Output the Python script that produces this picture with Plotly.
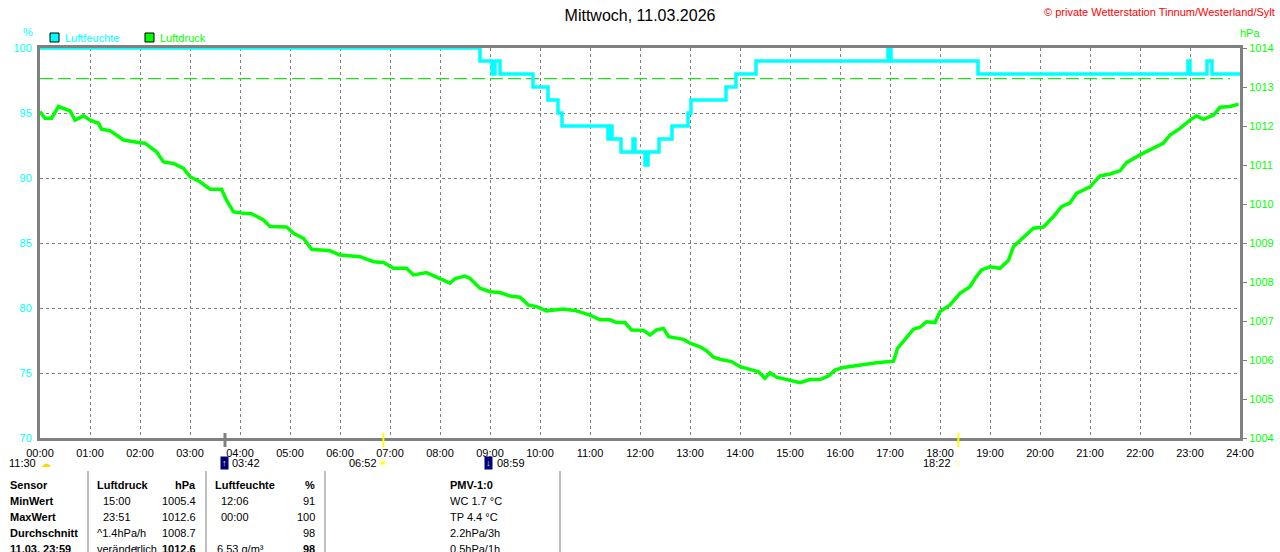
import plotly.graph_objects as go

# Luftfeuchte (%) als Stufenkurve, Stunden seit Mitternacht
hum_hours = [0.00, 8.80, 9.04, 9.10, 9.20, 9.86, 10.16, 10.36, 10.44, 11.36, 11.40,
             11.44, 11.62, 11.86, 11.90, 12.10, 12.16, 12.38, 12.64, 12.96, 13.02,
             13.72, 13.92, 14.32, 16.96, 17.02, 18.76, 22.96, 23.00, 23.34, 23.44, 24.00]
hum_values = [100, 99, 98, 99, 98, 97, 96, 95, 94, 93, 94,
              93, 92, 93, 92, 91, 92, 93, 94, 95, 96,
              97, 98, 99, 100, 99, 98, 99, 98, 99, 98, 98]

# Luftdruck (hPa)
press_hours = [0.00, 0.10, 0.23, 0.37, 0.60, 0.70, 0.87, 1.00, 1.17, 1.23, 1.40, 1.53, 1.67,
               2.00, 2.10, 2.33, 2.47, 2.67, 2.87, 3.00, 3.20, 3.40, 3.63, 3.73, 3.87,
               4.07, 4.23, 4.47, 4.60, 4.93, 5.07, 5.27, 5.43, 5.80, 6.00, 6.40, 6.67,
               6.87, 7.07, 7.33, 7.47, 7.73, 7.93, 8.00, 8.20, 8.30, 8.50, 8.60, 8.80,
               9.00, 9.20, 9.40, 9.60, 9.77, 9.93, 10.13, 10.47, 10.73, 11.00, 11.20,
               11.40, 11.53, 11.70, 11.83, 12.07, 12.20, 12.33, 12.47, 12.57, 12.87,
               13.00, 13.20, 13.33, 13.47, 13.60, 13.83, 14.00, 14.20, 14.37, 14.50,
               14.60, 14.73, 15.00, 15.20, 15.40, 15.60, 15.77, 15.90, 16.07, 16.27,
               16.47, 16.73, 17.00, 17.07, 17.15, 17.33, 17.47, 17.60, 17.73, 17.90,
               18.00, 18.20, 18.40, 18.60, 18.70, 18.83, 19.00, 19.20, 19.37, 19.47,
               19.67, 19.87, 20.07, 20.27, 20.43, 20.60, 20.73, 21.00, 21.20, 21.40,
               21.60, 21.73, 22.00, 22.27, 22.47, 22.60, 22.80, 23.00, 23.13, 23.27,
               23.47, 23.60, 23.80, 23.97]
press_values = [1012.37, 1012.20, 1012.20, 1012.50, 1012.39, 1012.15, 1012.26, 1012.15, 1012.07,
                1011.92, 1011.88, 1011.77, 1011.64, 1011.57, 1011.56, 1011.34, 1011.08, 1011.04,
                1010.91, 1010.70, 1010.57, 1010.38, 1010.38, 1010.10, 1009.80, 1009.76, 1009.75,
                1009.59, 1009.42, 1009.41, 1009.25, 1009.12, 1008.84, 1008.80, 1008.69, 1008.65,
                1008.52, 1008.50, 1008.35, 1008.35, 1008.18, 1008.24, 1008.12, 1008.09, 1007.97,
                1008.09, 1008.15, 1008.09, 1007.84, 1007.75, 1007.73, 1007.64, 1007.61, 1007.41,
                1007.37, 1007.26, 1007.31, 1007.26, 1007.15, 1007.03, 1007.03, 1006.96, 1006.96,
                1006.77, 1006.76, 1006.64, 1006.77, 1006.81, 1006.60, 1006.53, 1006.43, 1006.34,
                1006.24, 1006.07, 1006.02, 1005.96, 1005.83, 1005.76, 1005.70, 1005.53, 1005.67,
                1005.56, 1005.47, 1005.42, 1005.50, 1005.50, 1005.59, 1005.74, 1005.81, 1005.85,
                1005.87, 1005.93, 1005.96, 1005.97, 1006.30, 1006.56, 1006.79, 1006.84, 1006.98,
                1006.96, 1007.24, 1007.41, 1007.71, 1007.88, 1008.09, 1008.31, 1008.39, 1008.35,
                1008.56, 1008.91, 1009.16, 1009.38, 1009.41, 1009.68, 1009.93, 1010.03, 1010.27,
                1010.44, 1010.72, 1010.77, 1010.85, 1011.06, 1011.26, 1011.43, 1011.56, 1011.77,
                1011.94, 1012.15, 1012.26, 1012.17, 1012.28, 1012.48, 1012.50, 1012.56]

# gestrichelte Mittelwertlinie
avg_hours = [0.0, 23.8]
avg_values = [97.65, 97.65]

hour_ticks = list(range(25))
hour_labels = ["00:00", "01:00", "02:00", "03:00", "04:00", "05:00", "06:00", "07:00",
               "08:00", "09:00", "10:00", "11:00", "12:00", "13:00", "14:00", "15:00",
               "16:00", "17:00", "18:00", "19:00", "20:00", "21:00", "22:00", "23:00", "24:00"]
hum_ticks = [70, 75, 80, 85, 90, 95, 100]
press_ticks = [1004, 1005, 1006, 1007, 1008, 1009, 1010, 1011, 1012, 1013, 1014]

# Sonne / Mond
moon_rise, sun_rise, moon_set, sun_set = 3.7, 6.867, 8.983, 18.367
astro_labels = ["11:30", "03:42", "06:52", "08:59", "18:22"]

table_rows = [
    ["Sensor", "Luftdruck", "hPa", "Luftfeuchte", "%", "PMV-1:0"],
    ["MinWert", "15:00", "1005.4", "12:06", "91", "WC 1.7 °C"],
    ["MaxWert", "23:51", "1012.6", "00:00", "100", "TP 4.4 °C"],
    ["Durchschnitt", "^1.4hPa/h", "1008.7", "", "98", "2.2hPa/3h"],
    ["11.03. 23:59", "veränderlich", "1012.6", "6.53 g/m³", "98", "0.5hPa/1h"],
]

CYAN = "#00ffff"
GREEN = "#00ff00"
GRAY = "#808080"
FONT = "Liberation Sans, Arial, sans-serif"


def fx(px):
    return (px - 40) / 1200


def fy(py):
    return (438 - py) / 390


fig = go.Figure()

fig.add_trace(go.Scatter(
    x=avg_hours, y=avg_values, mode="lines", yaxis="y",
    line=dict(color="#22dd22", width=1.3, dash="13px,5px"),
    hoverinfo="skip", showlegend=False
))
fig.add_trace(go.Scatter(
    x=press_hours, y=press_values, mode="lines", yaxis="y2",
    line=dict(color=GREEN, width=3.5), name="Luftdruck", showlegend=False
))
fig.add_trace(go.Scatter(
    x=hum_hours, y=hum_values, mode="lines", yaxis="y",
    line=dict(color=CYAN, width=3.5, shape="hv"), name="Luftfeuchte",
    cliponaxis=False, showlegend=False
))

annotations = []
shapes = []


def text(px, py, s, color="black", size=11, anchor="left", bold=False):
    if bold:
        s = f"<b>{s}</b>"
    annotations.append(dict(
        x=fx(px), y=fy(py), xref="paper", yref="paper", text=s, showarrow=False,
        xanchor=anchor, yanchor="middle", font=dict(family=FONT, size=size, color=color)
    ))


# Kopfzeile
text(1277, 12, "© private Wetterstation Tinnum/Westerland/Sylt", color="#ff0000", size=11, anchor="right")
text(28, 32, "%", color=CYAN, size=11, anchor="center")
text(1250, 33, "hPa", color=GREEN, size=11, anchor="center")

# Legende
for x0, col, label in [(50, CYAN, "Luftfeuchte"), (145, GREEN, "Luftdruck")]:
    shapes.append(dict(type="rect", xref="paper", yref="paper",
                       x0=fx(x0), x1=fx(x0 + 9), y0=fy(42), y1=fy(33),
                       fillcolor=col, line=dict(color="black", width=1)))
    text(x0 + 13, 38, label, color=col, size=11)

# Sonne / Mond Markierungen an der x-Achse
for h, col, w in [(moon_rise, GRAY, 3), (sun_rise, "#ffff00", 2), (sun_set, "#ffff00", 2)]:
    shapes.append(dict(type="line", xref="x", yref="paper", x0=h, x1=h,
                       y0=fy(447), y1=fy(433), line=dict(color=col, width=w), layer="above"))


def astro(h, s, xshift, anchor, color="black", size=11, bg=None, pad=0):
    annotations.append(dict(
        x=h, y=fy(463), xref="x", yref="paper", text=s, showarrow=False, xshift=xshift,
        xanchor=anchor, yanchor="middle", bgcolor=bg, borderpad=pad,
        font=dict(family=FONT, size=size, color=color)
    ))


astro(0, astro_labels[0], -3, "right")
astro(0, "☁", 0, "left", color="#ffd800", size=10)
astro(moon_rise, "↑", -5, "left", color="#ffff00", size=9, bg="#000080", pad=1)
astro(moon_rise, astro_labels[1], 6, "left")
astro(sun_rise, astro_labels[2], -5, "right")
astro(sun_rise, "☀", -6, "left", color="#ffff00", size=11)
astro(moon_set, "↓", -5, "left", color="#ffff00", size=9, bg="#000080", pad=1)
astro(moon_set, astro_labels[3], 7, "left")
astro(sun_set, astro_labels[4], -6, "right")
astro(sun_set, "□", -4, "left", color="#ffff00", size=8)

# Tabelle
for xs in [88, 206, 325, 560]:
    shapes.append(dict(type="line", xref="paper", yref="paper", x0=fx(xs), x1=fx(xs),
                       y0=fy(471), y1=fy(560), line=dict(color=GRAY, width=1)))

row_y = [485, 501, 517, 533, 549]
col_pos = [(8, "left"), (95, "left"), (198, "right"), (213, "left"), (317, "right"), (448, "left")]
for r, row in enumerate(table_rows):
    for c, val in enumerate(row):
        if not val:
            continue
        px, anchor = col_pos[c]
        if r in (1, 2) and c in (1, 3):
            px += 6
        if r == 4 and c == 3:
            px += 2
        bold = r == 0 or c == 0 or (r == 4 and c in (2, 4))
        text(px, row_y[r], val, anchor=anchor, bold=bold)
text(136, 549, "<b>↑</b>", color="#000080", size=12, anchor="center")

fig.update_layout(
    width=1280, height=552, autosize=False,
    margin=dict(l=40, r=40, t=48, b=114, pad=0, autoexpand=False),
    paper_bgcolor="white", plot_bgcolor="white",
    title=dict(text="Mittwoch, 11.03.2026", x=0.5, xanchor="center",
               y=1 - 15 / 552, yanchor="middle", font=dict(family=FONT, size=16, color="black")),
    showlegend=False,
    xaxis=dict(range=[0, 24], tickvals=hour_ticks, ticktext=hour_labels,
               showgrid=True, gridcolor=GRAY, griddash="3px,3px", gridwidth=1,
               showline=True, linecolor=GRAY, linewidth=3, mirror=True,
               ticks="outside", ticklen=3, tickcolor="rgba(0,0,0,0)",
               tickfont=dict(family=FONT, size=11, color="black"), automargin=False,
               zeroline=False, layer="below traces", fixedrange=True),
    yaxis=dict(range=[70, 100], tickvals=hum_ticks,
               showgrid=True, gridcolor=GRAY, griddash="3px,3px", gridwidth=1,
               showline=True, linecolor=GRAY, linewidth=3,
               ticks="outside", ticklen=3, tickcolor="rgba(0,0,0,0)",
               tickfont=dict(family=FONT, size=11, color=CYAN), automargin=False,
               zeroline=False, layer="below traces", fixedrange=True),
    yaxis2=dict(range=[1004, 1014], tickvals=press_ticks, overlaying="y", side="right",
                showgrid=False, showline=True, linecolor=GRAY, linewidth=3,
                ticks="outside", ticklen=4, tickcolor=GRAY, tickwidth=1,
                tickfont=dict(family=FONT, size=11, color=GREEN), automargin=False,
                zeroline=False, layer="below traces", fixedrange=True),
    annotations=annotations,
    shapes=shapes,
)

fig.write_html("out.html", config={"displayModeBar": False},
               post_script="document.body.style.margin='0';document.body.style.overflow='hidden';")
